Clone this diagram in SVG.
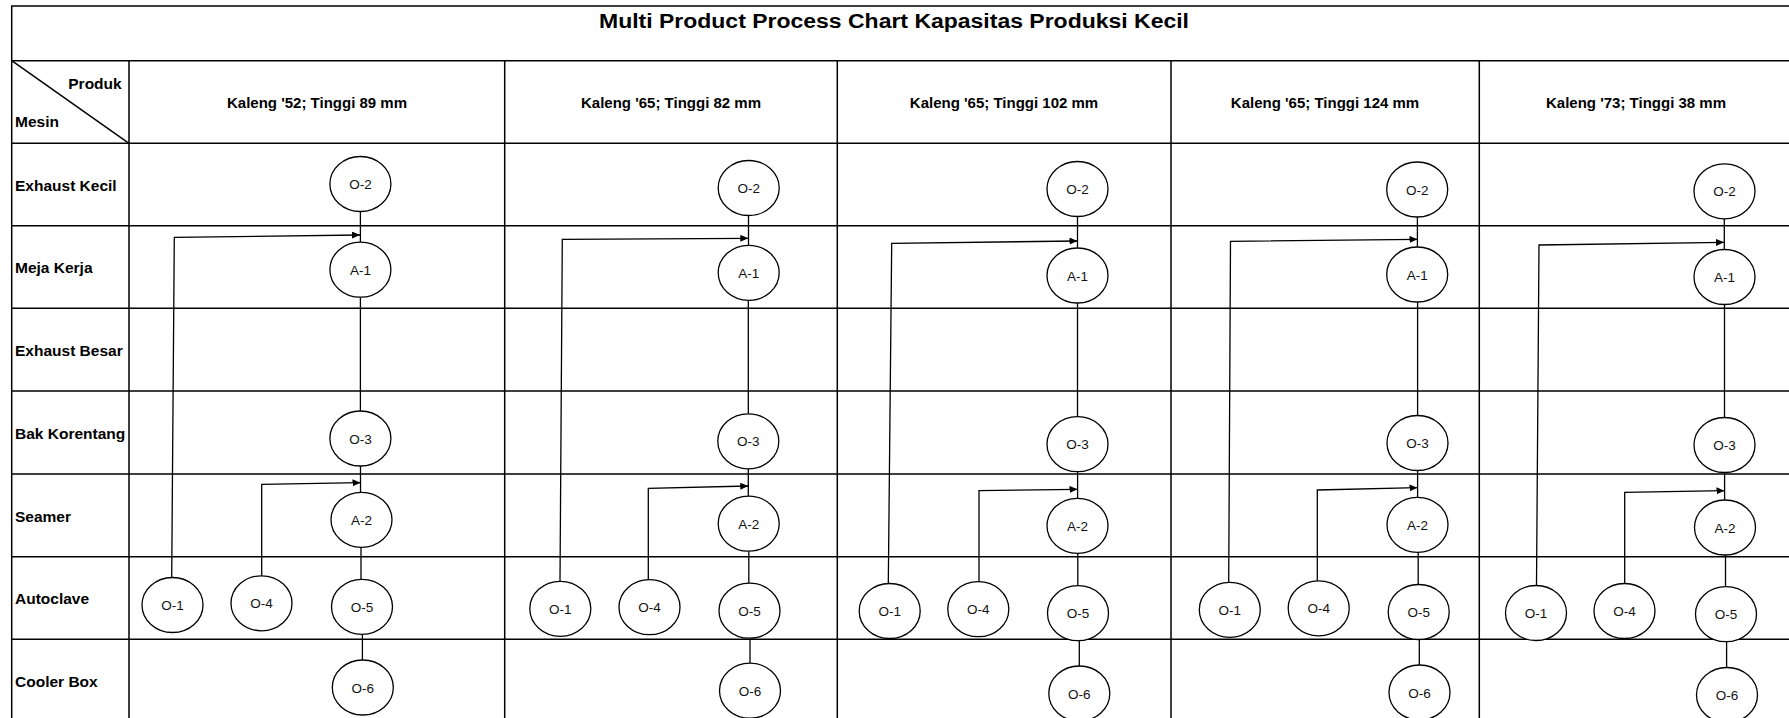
<svg xmlns="http://www.w3.org/2000/svg" width="1789" height="718" viewBox="0 0 1789 718">
<defs>
<marker id="arr" markerUnits="userSpaceOnUse" markerWidth="9" markerHeight="7" refX="8" refY="3.5" orient="auto"><path d="M0,0 L8,3.5 L0,7 z" fill="#000"/></marker>
<style>
.grid{fill:none;stroke:#000;stroke-width:1.5}
.lbl{font-family:"Liberation Sans",Arial,sans-serif;font-weight:bold;font-size:15.5px;fill:#000}
.hdr{font-family:"Liberation Sans",Arial,sans-serif;font-weight:bold;font-size:15px;fill:#000;text-anchor:middle}
.title{font-family:"Liberation Sans",Arial,sans-serif;font-weight:bold;font-size:20px;fill:#000;text-anchor:middle}
.n ellipse{fill:#fff;stroke:#000;stroke-width:1.3}
.n text{font-family:"Liberation Sans",Arial,sans-serif;font-size:13.5px;fill:#111;text-anchor:middle}
.conn path{fill:none;stroke:#000;stroke-width:1.3}
.conn path.a{marker-end:url(#arr)}
</style>
</defs>
<rect width="1789" height="718" fill="#fff"/>
<g id="table">
<rect class="grid" x="11.7" y="6" width="1782" height="716"/>
<path class="grid" d="M11.7 60.7H1793M11.7 143.3H1793M11.7 225.7H1793M11.7 308.3H1793M11.7 391H1793M11.7 474H1793M11.7 556.7H1793M11.7 639.3H1793"/>
<path class="grid" d="M129 60.7V722M504.7 60.7V722M837.3 60.7V722M1171 60.7V722M1479.3 60.7V722"/>
<path class="grid" d="M11.7 60.7L129 143.3" stroke-width="1.2"/>
<text class="title" x="894" y="27.8" textLength="590" lengthAdjust="spacingAndGlyphs">Multi Product Process Chart Kapasitas Produksi Kecil</text>
<text class="lbl" x="121.7" y="88.7" text-anchor="end">Produk</text>
<text class="lbl" x="15" y="127.3">Mesin</text>
<text class="hdr" x="317" y="107.5">Kaleng '52; Tinggi 89 mm</text>
<text class="hdr" x="671" y="107.5">Kaleng '65; Tinggi 82 mm</text>
<text class="hdr" x="1004" y="107.5">Kaleng '65; Tinggi 102 mm</text>
<text class="hdr" x="1325" y="107.5">Kaleng '65; Tinggi 124 mm</text>
<text class="hdr" x="1636" y="107.5">Kaleng '73; Tinggi 38 mm</text>
<text class="lbl" x="15" y="190.7">Exhaust Kecil</text>
<text class="lbl" x="15" y="273.2">Meja Kerja</text>
<text class="lbl" x="15" y="355.7">Exhaust Besar</text>
<text class="lbl" x="15" y="438.7">Bak Korentang</text>
<text class="lbl" x="15" y="521.5">Seamer</text>
<text class="lbl" x="15" y="604.2">Autoclave</text>
<text class="lbl" x="15" y="686.7">Cooler Box</text>
</g>
<g id="connectors" class="conn">
<path d="M360.4 211.5V242.2"/>
<path class="a" d="M171.7 577.5L174.3 237.3L360 235"/>
<path d="M360.4 297.2V411"/>
<path d="M360.5 466V492.3"/>
<path class="a" d="M261.7 575.8V484.3L360.5 482.7"/>
<path d="M361 547.3V579.3"/>
<path d="M362.4 634.3V660"/>

<path d="M748.5 215.5V245.3"/>
<path class="a" d="M560 581.3L562.3 239.3L748.3 238.3"/>
<path d="M748.3 300.3V413.8"/>
<path d="M748.3 468.8V496.2"/>
<path class="a" d="M648.3 579.8V488.3L748.3 486"/>
<path d="M748.8 551.2V583.2"/>
<path d="M750 638.2V663.2"/>

<path d="M1077.5 216.5V248"/>
<path class="a" d="M888.3 583.5L891.7 243.3L1077.5 241"/>
<path d="M1077.5 303V416.7"/>
<path d="M1077.6 471.7V498.3"/>
<path class="a" d="M979 581.7V490.7L1077.5 489.3"/>
<path d="M1077.8 553.3V585.7"/>
<path d="M1079.3 640.7V666"/>

<path d="M1417.4 217V247"/>
<path class="a" d="M1228.7 582.3L1230.5 241.3L1417.5 239.3"/>
<path d="M1417.6 302V415.5"/>
<path d="M1417.6 470.5V497.3"/>
<path class="a" d="M1317.3 580.8V490L1417.5 487.7"/>
<path d="M1418.2 552.3V585"/>
<path d="M1419.3 639.5V665"/>

<path d="M1724.3 218.8V249.5"/>
<path class="a" d="M1536.5 585.5L1539 245L1724 242.3"/>
<path d="M1724.5 304.5V417.5"/>
<path d="M1724.6 472.5V500"/>
<path class="a" d="M1624.7 583.5V492.3L1724.5 490.7"/>
<path d="M1725.5 555V586.7"/>
<path d="M1726.6 641.7V667.5"/>
</g>
<g id="c1-O2" class="n"><ellipse cx="360.4" cy="184" rx="30.5" ry="27.5"/><text x="360.4" y="189">O-2</text></g>
<g id="c1-A1" class="n"><ellipse cx="360.4" cy="269.7" rx="30.5" ry="27.5"/><text x="360.4" y="274.7">A-1</text></g>
<g id="c1-O3" class="n"><ellipse cx="360.4" cy="438.5" rx="30.5" ry="27.5"/><text x="360.4" y="443.5">O-3</text></g>
<g id="c1-A2" class="n"><ellipse cx="361.5" cy="519.8" rx="30.5" ry="27.5"/><text x="361.5" y="524.8">A-2</text></g>
<g id="c1-O5" class="n"><ellipse cx="362" cy="606.8" rx="30.5" ry="27.5"/><text x="362" y="611.8">O-5</text></g>
<g id="c1-O6" class="n"><ellipse cx="362.8" cy="687.5" rx="30.5" ry="27.5"/><text x="362.8" y="692.5">O-6</text></g>
<g id="c1-O1" class="n"><ellipse cx="172.5" cy="605" rx="30.5" ry="27.5"/><text x="172.5" y="610">O-1</text></g>
<g id="c1-O4" class="n"><ellipse cx="261.5" cy="603.3" rx="30.5" ry="27.5"/><text x="261.5" y="608.3">O-4</text></g>

<g id="c2-O2" class="n"><ellipse cx="748.7" cy="188" rx="30.5" ry="27.5"/><text x="748.7" y="193">O-2</text></g>
<g id="c2-A1" class="n"><ellipse cx="748.7" cy="272.8" rx="30.5" ry="27.5"/><text x="748.7" y="277.8">A-1</text></g>
<g id="c2-O3" class="n"><ellipse cx="748.3" cy="441.3" rx="30.5" ry="27.5"/><text x="748.3" y="446.3">O-3</text></g>
<g id="c2-A2" class="n"><ellipse cx="748.7" cy="523.7" rx="30.5" ry="27.5"/><text x="748.7" y="528.7">A-2</text></g>
<g id="c2-O5" class="n"><ellipse cx="749.5" cy="610.7" rx="30.5" ry="27.5"/><text x="749.5" y="615.7">O-5</text></g>
<g id="c2-O6" class="n"><ellipse cx="750" cy="690.7" rx="30.5" ry="27.5"/><text x="750" y="695.7">O-6</text></g>
<g id="c2-O1" class="n"><ellipse cx="560.3" cy="608.8" rx="30.5" ry="27.5"/><text x="560.3" y="613.8">O-1</text></g>
<g id="c2-O4" class="n"><ellipse cx="649.5" cy="607.2" rx="30.5" ry="27.5"/><text x="649.5" y="612.2">O-4</text></g>

<g id="c3-O2" class="n"><ellipse cx="1077.5" cy="189" rx="30.5" ry="27.5"/><text x="1077.5" y="194">O-2</text></g>
<g id="c3-A1" class="n"><ellipse cx="1077.5" cy="275.5" rx="30.5" ry="27.5"/><text x="1077.5" y="280.5">A-1</text></g>
<g id="c3-O3" class="n"><ellipse cx="1077.5" cy="444.2" rx="30.5" ry="27.5"/><text x="1077.5" y="449.2">O-3</text></g>
<g id="c3-A2" class="n"><ellipse cx="1077.5" cy="525.8" rx="30.5" ry="27.5"/><text x="1077.5" y="530.8">A-2</text></g>
<g id="c3-O5" class="n"><ellipse cx="1078" cy="613.2" rx="30.5" ry="27.5"/><text x="1078" y="618.2">O-5</text></g>
<g id="c3-O6" class="n"><ellipse cx="1079.3" cy="693.5" rx="30.5" ry="27.5"/><text x="1079.3" y="698.5">O-6</text></g>
<g id="c3-O1" class="n"><ellipse cx="889.7" cy="611" rx="30.5" ry="27.5"/><text x="889.7" y="616">O-1</text></g>
<g id="c3-O4" class="n"><ellipse cx="978.3" cy="609.2" rx="30.5" ry="27.5"/><text x="978.3" y="614.2">O-4</text></g>

<g id="c4-O2" class="n"><ellipse cx="1417.2" cy="189.5" rx="30.5" ry="27.5"/><text x="1417.2" y="194.5">O-2</text></g>
<g id="c4-A1" class="n"><ellipse cx="1417.2" cy="274.5" rx="30.5" ry="27.5"/><text x="1417.2" y="279.5">A-1</text></g>
<g id="c4-O3" class="n"><ellipse cx="1417.5" cy="443" rx="30.5" ry="27.5"/><text x="1417.5" y="448">O-3</text></g>
<g id="c4-A2" class="n"><ellipse cx="1417.5" cy="524.8" rx="30.5" ry="27.5"/><text x="1417.5" y="529.8">A-2</text></g>
<g id="c4-O5" class="n"><ellipse cx="1418.7" cy="612" rx="30.5" ry="27.5"/><text x="1418.7" y="617">O-5</text></g>
<g id="c4-O6" class="n"><ellipse cx="1419.5" cy="692.5" rx="30.5" ry="27.5"/><text x="1419.5" y="697.5">O-6</text></g>
<g id="c4-O1" class="n"><ellipse cx="1229.8" cy="609.8" rx="30.5" ry="27.5"/><text x="1229.8" y="614.8">O-1</text></g>
<g id="c4-O4" class="n"><ellipse cx="1318.7" cy="608.3" rx="30.5" ry="27.5"/><text x="1318.7" y="613.3">O-4</text></g>

<g id="c5-O2" class="n"><ellipse cx="1724.5" cy="191.3" rx="30.5" ry="27.5"/><text x="1724.5" y="196.3">O-2</text></g>
<g id="c5-A1" class="n"><ellipse cx="1724.5" cy="277" rx="30.5" ry="27.5"/><text x="1724.5" y="282">A-1</text></g>
<g id="c5-O3" class="n"><ellipse cx="1724.5" cy="445" rx="30.5" ry="27.5"/><text x="1724.5" y="450">O-3</text></g>
<g id="c5-A2" class="n"><ellipse cx="1725" cy="527.5" rx="30.5" ry="27.5"/><text x="1725" y="532.5">A-2</text></g>
<g id="c5-O5" class="n"><ellipse cx="1726" cy="614.2" rx="30.5" ry="27.5"/><text x="1726" y="619.2">O-5</text></g>
<g id="c5-O6" class="n"><ellipse cx="1727" cy="695" rx="30.5" ry="27.5"/><text x="1727" y="700">O-6</text></g>
<g id="c5-O1" class="n"><ellipse cx="1536" cy="613" rx="30.5" ry="27.5"/><text x="1536" y="618">O-1</text></g>
<g id="c5-O4" class="n"><ellipse cx="1624.5" cy="611" rx="30.5" ry="27.5"/><text x="1624.5" y="616">O-4</text></g>
</svg>
